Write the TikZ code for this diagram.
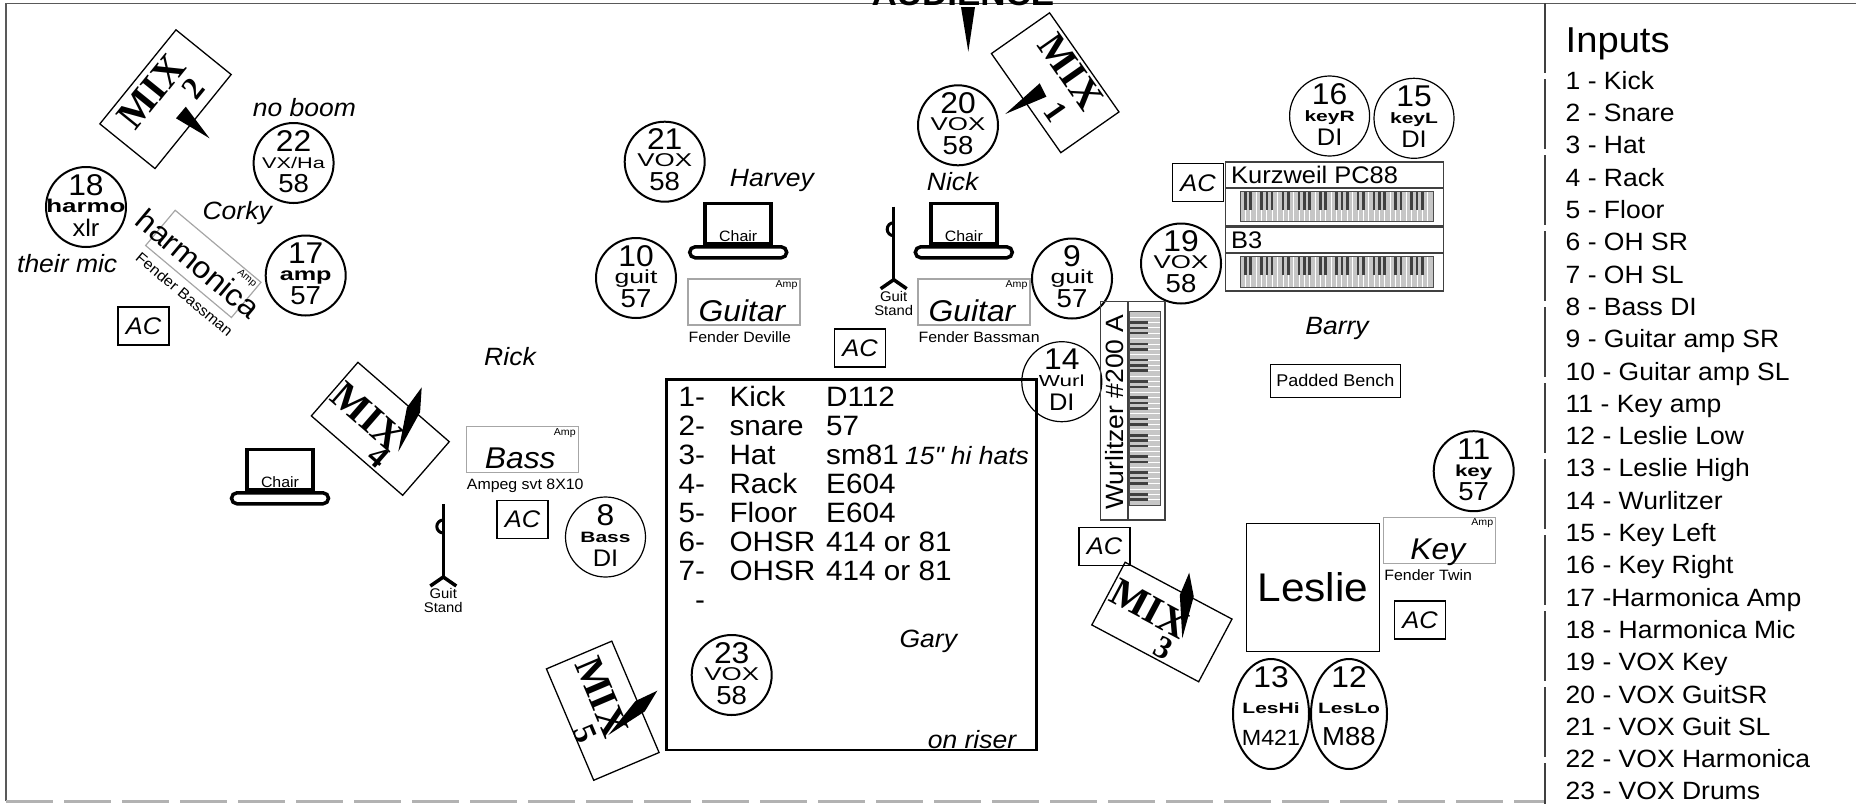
\documentclass[tikz,border=0pt]{standalone}
\usepackage{fontspec}
\setmainfont{Liberation Sans}[FakeStretch=1.06]
\newfontfamily\lblfont{Liberation Sans}[FakeStretch=1.4]
\newfontfamily\mixfont{Liberation Serif}
\usetikzlibrary{calc,shapes.geometric}

\newcommand\fs[1]{\fontsize{#1}{#1}\selectfont}

\newcommand\mic[6][]{%
  \node[mic,#1] (#2) at (#3) {};
  \node[micnum] (#2n) at ($(#2)+(0,-12)$) {#4};
  \node[miclbl] (#2l) at ($(#2)+(0,5)$) {#5};
  \node[micmod] (#2m) at ($(#2)+(0,29)$) {#6};
}

\newcommand\tallmic[5]{%
  \node[mic, ellipse, minimum width=76pt, minimum height=110pt] (#1) at (#2) {};
  \node[micnum] (#1n) at ($(#1)+(0,-27)$) {#3};
  \node[miclbl] (#1l) at ($(#1)+(0,-1)$) {#4};
  \node[micmod] (#1m) at ($(#1)+(0,31)$) {#5};
}

\newcommand\ampbox[7][-2,19]{%
  \begin{scope}[shift={(#3)}, rotate=#4, transform shape]
  \node[amp] (#2) at (0,0) {};
  \node[amplbl, font=#7] (#2l) at (#1) {#5};
  \node[amptag] (#2t) at (#2.north east) {Amp};
  \node[ampcap] (#2c) at (#2.south west) {#6};
  \end{scope}
}

\newcommand\monitor[6]{%
  \begin{scope}[shift={(#2)}, rotate=#3, transform shape]
  \node[mixbox] (#1) at (0,0) {};
  \node[mixtxt] (#1t) at (#5) {MIX};
  \node[mixnum] (#1n) at (#6) {#4};
  \end{scope}
}

\newcommand\spike[2]{%
  \fill (#1) -- ($(#1)!0.35!(#2)!7pt!90:(#2)$) -- (#2) -- ($(#1)!0.35!(#2)!7pt!-90:(#2)$) -- cycle;
}

\newcommand\chair[2]{%
  \node[chairback] (#1) at (#2) {};
  \node[chairbar] (#1b) at (#1.south) {};
  \node[chairtxt] (#1t) at ($(#1.south)+(0,-4)$) {Chair};
}

\newcommand\guitstand[2]{%
  \coordinate (#1) at (#2);
  \coordinate (#1f) at ($(#1)+(0,73)$);
  \draw[stand] (#1) -- (#1f);
  \draw[stand] ($(#1f)+(-13,9)$) -- (#1f) -- ($(#1f)+(13,9)$);
  \draw[stand, line width=3pt] ($(#1)+(0,16)$) arc[start angle=-90, end angle=-270, radius=6.5];
  \node[standtxt] (#1t) at ($(#1f)+(0,23.5)$) {Guit\\Stand};
}

\newcommand\keybed[4]{%
  \begin{scope}[shift={(#1)}, rotate=#2]
  \fill[gray!45] (0,0) rectangle (#3,#4);
  \foreach \k in {1,...,35} \draw[white, line width=0.8pt] ({\k*#3/36},0) -- ++(0,#4);
  \foreach \o in {0,...,4} \foreach \b in {1,2,4,5,6}
    \fill[black!75] ({(\o*7+\b)*#3/36-1.3},0) rectangle ++(2.6,{0.6*#4});
  \draw[gray!60!black, line width=0.8pt] (0,0) rectangle (#3,#4);
  \end{scope}
}

\begin{document}
\begin{tikzpicture}[x=1pt, y=-1pt]
\tikzstyle{every node}=[inner sep=0pt]
\tikzstyle{mic}=[circle, draw, line width=2pt, minimum size=80pt]
\tikzstyle{thinring}=[line width=1.2pt]
\tikzstyle{micnum}=[anchor=base, font=\fs{30}]
\tikzstyle{miclbl}=[anchor=base, font=\lblfont\fs{16}]
\tikzstyle{micmod}=[anchor=base, font=\fs{26}]
\tikzstyle{amp}=[draw=gray!70, line width=1.2pt, minimum width=112pt, minimum height=46pt]
\tikzstyle{amplbl}=[anchor=base]
\tikzstyle{amptag}=[anchor=north east, font=\fs{10}, xshift=-3pt, yshift=-2pt]
\tikzstyle{ampcap}=[anchor=north west, font=\fs{15}, xshift=1pt, yshift=-6pt]
\tikzstyle{acbox}=[draw, line width=1.3pt, minimum width=51pt, minimum height=38pt, font=\itshape\fs{24}]
\tikzstyle{mixbox}=[draw, line width=1.3pt, minimum width=121pt, minimum height=71pt]
\tikzstyle{mixtxt}=[font=\mixfont\bfseries\fs{40}]
\tikzstyle{mixnum}=[font=\mixfont\bfseries\fs{32}]
\tikzstyle{who}=[font=\itshape\fs{25}]
\tikzstyle{drum}=[anchor=base west, font=\fs{28}]
\tikzstyle{inhead}=[anchor=base west, font=\fs{36}]
\tikzstyle{initem}=[anchor=base west, font=\fs{25}]
\tikzstyle{chairback}=[draw, line width=3.5pt, minimum width=66pt, minimum height=40pt]
\tikzstyle{chairbar}=[draw, line width=3.5pt, rounded corners=5.5pt, minimum width=97pt, minimum height=11pt, anchor=north]
\tikzstyle{chairtxt}=[anchor=base, font=\fs{15}]
\tikzstyle{stand}=[line width=3.5pt]
\tikzstyle{standtxt}=[align=center, font=\fs{14}]
\tikzstyle{kbframe}=[draw=gray!50!black, line width=1.3pt]

\useasboundingbox (0,0) rectangle (1856,804);

\draw[gray!70!black, line width=1.5pt] (6,801) -- (6,3.3) -- (1856,3.3);
\draw[gray!60, line width=3pt, dash pattern=on 47pt off 11pt] (6,801) -- (1545,801);
\draw[gray!50!black, line width=1.5pt, dash pattern=on 70pt off 6pt] (1545,3) -- (1545,804);
\node[anchor=base, font=\bfseries\fs{33}] (aud) at (963,5) {AUDIENCE};
\fill (961,7) -- (975,7) -- (968.3,51.7) -- cycle;

\monitor{mix2}{165.5,99.2}{51}{2}{-3,-16}{26,15}
\monitor{mix1}{1055.2,82.75}{-55}{1}{0,-19}{24,16}
\monitor{mix4}{380.3,428.8}{-41}{4}{-17,-1}{17,22}
\monitor{mix3}{1161.9,622}{-28}{3}{-17,-6}{14,22}
\monitor{mix5}{602.75,710.7}{-67}{5}{-13,-5}{14,25}
\fill (185.8,106.7) -- (176,118.3) -- (209.6,138.3) -- cycle;
\fill (1039.7,83.3) -- (1046.4,96.7) -- (1005.3,114) -- cycle;
\spike{421.7,387.3}{398.3,451.7}
\spike{1189.2,572.7}{1182.3,638.3}
\spike{657.3,690.7}{608.3,735}

\draw[line width=2.5pt] (666.7,379.3) rectangle (1036.7,750);
\foreach \b/\c [count=\i] in {Kick/D112, snare/57, Hat/sm81, Rack/E604, Floor/E604, OHSR/414 or 81, OHSR/414 or 81} {
  \node[drum] (dn\i) at (678.3,{377+29*\i}) {\i-};
  \node[drum] (di\i) at (729.3,{377+29*\i}) {\b};
  \node[drum] (dm\i) at (826,{377+29*\i}) {\c};
}
\node[drum] (dn8) at (678.3,609) {\phantom{1}-};
\node[who, anchor=base west] (hats) at (905,464) {15\textquotedbl{} hi hats};

\mic{m22}{293.6,163}{22}{\fs{15.5}VX/Ha}{58}
\mic{m18}{86,207}{18}{\fs{18.5}\bfseries harmo}{\fs{24}xlr}
\mic{m17}{305.7,275.5}{17}{\fs{18}\bfseries amp}{57}
\mic{m21}{664.7,161.7}{21}{\fs{18.5}VOX}{58}
\mic{m20}{958,125.3}{20}{\fs{18.5}VOX}{58}
\mic{m10}{636,278}{10}{\fs{19}guit}{57}
\mic{m9}{1072,278.5}{9}{\fs{19}guit}{57}
\mic{m19}{1181,263.5}{19}{\fs{18.5}VOX}{58}
\mic[thinring]{m16}{1329.6,116}{16}{\fs{15}\bfseries keyR}{\fs{24}DI}
\mic[thinring]{m15}{1414,118.3}{15}{\fs{15}\bfseries keyL}{\fs{24}DI}
\mic[thinring]{m14}{1061.8,381.7}{14}{\fs{16}Wurl}{\fs{24}DI}
\mic[thinring]{m8}{605.5,537}{8}{\fs{15}\bfseries Bass}{\fs{24}DI}
\mic{m11}{1473.7,471.2}{11}{\fs{16}\bfseries key}{57}
\mic{m23}{731.7,675}{23}{\fs{18.5}VOX}{58}
\tallmic{m13}{1271,714}{13}{\fs{15}\bfseries LesHi}{\fs{22}M421}
\tallmic{m12}{1349,714}{12}{\fs{15}\bfseries LesLo}{M88}

\ampbox[-4,14]{hamp}{203.3,263.9}{-40}{harmonica}{Fender Bassman}{\fs{30.5}}
\ampbox{gampl}{744,302}{0}{Guitar}{Fender Deville}{\itshape\fs{30}}
\ampbox{gampr}{974,302}{0}{Guitar}{Fender Bassman}{\itshape\fs{30}}
\ampbox{bamp}{522.3,449.7}{0}{Bass}{Ampeg svt 8X10}{\itshape\fs{30}}
\ampbox{kamp}{1439.8,540.3}{0}{Key}{Fender Twin}{\itshape\fs{30}}

\node[acbox] (ac1) at (143.5,326) {AC};
\node[acbox] (ac2) at (522.5,519.2) {AC};
\node[acbox] (ac3) at (860,348) {AC};
\node[acbox] (ac4) at (1198,182.8) {AC};
\node[acbox] (ac5) at (1104.5,546.2) {AC};
\node[acbox] (ac6) at (1420,620) {AC};

\chair{chr}{280,469.3}
\chair{chh}{738.2,223.3}
\chair{chn}{963.8,223.3}
\guitstand{gsl}{443.3,504}
\guitstand{gsm}{893.7,206.7}

\draw[kbframe] (1225.7,162) rectangle (1443.3,226);
\draw[kbframe] (1225.7,188) -- (1443.3,188);
\draw[kbframe] (1225.7,227) rectangle (1443.3,291);
\draw[kbframe] (1225.7,253) -- (1443.3,253);
\keybed{1240,191.7}{0}{193}{30}
\keybed{1240,256}{0}{193}{31}
\node[anchor=base west, font=\fs{24}] (kurz) at (1231,183.3) {Kurzweil PC88};
\node[anchor=base west, font=\fs{24}] (bthree) at (1231,248.3) {B3};

\draw[kbframe] (1100.8,301.7) rectangle (1165.1,520);
\draw[kbframe] (1128,301.7) -- (1128,520);
\keybed{1129.5,505}{90}{193.3}{30.5}
\node[rotate=90, font=\fs{25}] (wurl) at (1114.5,412) {Wurlitzer \#200 A};

\node[draw, line width=1.5pt, minimum width=133pt, minimum height=128pt, font=\fs{40}] (leslie) at (1313,587.5) {Leslie};
\node[draw, line width=1.3pt, minimum width=130pt, minimum height=33pt, font=\fs{17}] (bench) at (1335.4,380.8) {Padded Bench};

\node[who] (harvey) at (771.9,180) {Harvey};
\node[who] (nick) at (952.7,181.7) {Nick};
\node[who] (rick) at (510,357) {Rick};
\node[who] (corky) at (237.2,213.3) {Corky};
\node[who] (barry) at (1337,328.3) {Barry};
\node[who] (gary) at (928.3,641.7) {Gary};
\node[who] (noboom) at (304.5,107.3) {no boom};
\node[who] (theirmic) at (67.2,263.3) {their mic};
\node[who] (riser) at (972,740) {on riser};

\node[inhead] (inputs) at (1565.5,52.7) {Inputs};
\foreach \t [count=\i] in {1 - Kick, 2 - Snare, 3 - Hat, 4 - Rack, 5 - Floor, 6 - OH SR, 7 - OH SL, 8 - Bass DI, 9 - Guitar amp SR, 10 - Guitar amp SL, 11 - Key amp, 12 - Leslie Low, 13 - Leslie High, 14 - Wurlitzer, 15 - Key Left, 16 - Key Right, 17 -Harmonica Amp, 18 - Harmonica Mic, 19 - VOX Key, 20 - VOX GuitSR, 21 - VOX Guit SL, 22 - VOX Harmonica, 23 - VOX Drums}
  \node[initem] (in\i) at (1565.5,{89.3+(\i-1)*32.3}) {\t};
\end{tikzpicture}
\end{document}
